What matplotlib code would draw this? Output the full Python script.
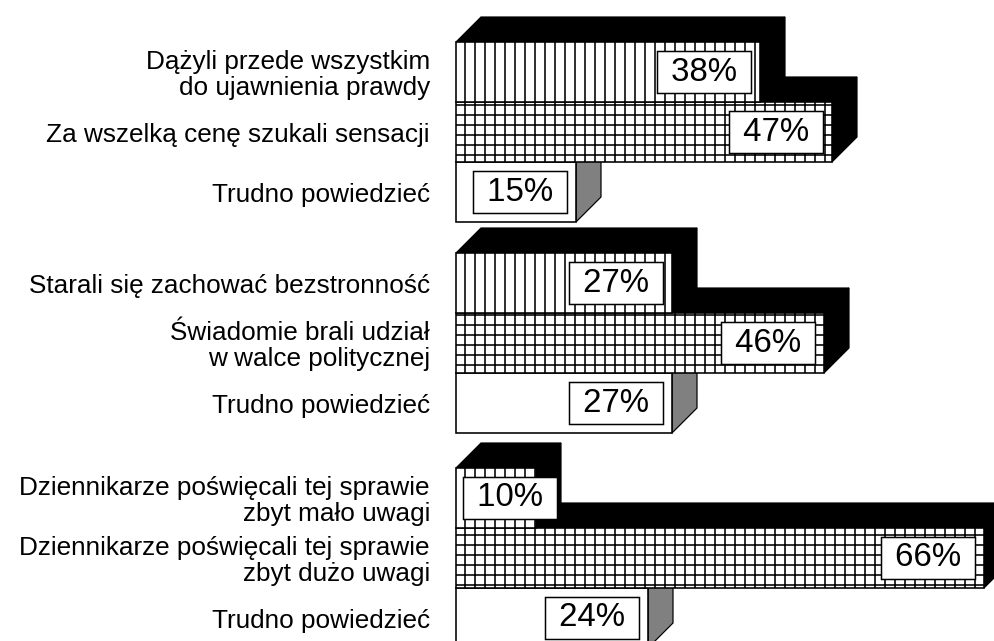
import matplotlib
matplotlib.use("Agg")
import matplotlib.pyplot as plt
from matplotlib.patches import Rectangle, Polygon
from matplotlib.transforms import blended_transform_factory, ScaledTranslation

# ---------------- data ----------------
group1_labels = ["Dążyli przede wszystkim\ndo ujawnienia prawdy",
                 "Za wszelką cenę szukali sensacji",
                 "Trudno powiedzieć"]
group1_values = [38, 47, 15]

group2_labels = ["Starali się zachować bezstronność",
                 "Świadomie brali udział\nw walce politycznej",
                 "Trudno powiedzieć"]
group2_values = [27, 46, 27]

group3_labels = ["Dziennikarze poświęcali tej sprawie\nzbyt mało uwagi",
                 "Dziennikarze poświęcali tej sprawie\nzbyt dużo uwagi",
                 "Trudno powiedzieć"]
group3_values = [10, 66, 24]

groups = [(group1_labels, group1_values),
          (group2_labels, group2_values),
          (group3_labels, group3_values)]

# ---------------- style / layout ----------------
DPI = 60
W, H = 995, 641
PT = 72.0 / DPI          # points per pixel

plt.rcParams['font.family'] = ['Liberation Sans', 'DejaVu Sans']
plt.rcParams['hatch.linewidth'] = 1.6 * PT
plt.rcParams['hatch.color'] = 'black'

hatches = ['|', '+', '']
side_colors = ['black', 'black', '#808080']

fig = plt.figure(figsize=(W / DPI, H / DPI), dpi=DPI)
fig.patch.set_facecolor('white')

ax_left_px = 456
xmax = 67
ax_w_px = 536
bar_h_px = 60
group_tops_px = [42, 253, 468]
depth_px = 25

sx = ax_w_px / xmax          # px per percent
dx = depth_px / sx
dy = depth_px / bar_h_px

label_em_px = 26.1
value_em_px = 33.0
box_w_px = 94

for (labels, values), top in zip(groups, group_tops_px):
    ax = fig.add_axes([ax_left_px / W, 1 - (top + 3 * bar_h_px) / H,
                       ax_w_px / W, 3 * bar_h_px / H])
    ax.set_xlim(0, xmax)
    ax.set_ylim(3, 0)
    ax.axis('off')
    ax.patch.set_alpha(0)

    n = len(values)
    for i in reversed(range(n)):
        v = values[i]
        z = 1 + (n - 1 - i) * 3
        sc = side_colors[i]
        top_face = Polygon([(0, i), (dx, i - dy), (v + dx, i - dy), (v, i)],
                           closed=True, facecolor=sc, edgecolor='black',
                           lw=1.2 * PT, zorder=z, clip_on=False)
        right_face = Polygon([(v, i), (v + dx, i - dy), (v + dx, i + 1 - dy), (v, i + 1)],
                             closed=True, facecolor=sc, edgecolor='black',
                             lw=1.2 * PT, zorder=z, clip_on=False)
        front = Rectangle((0, i), v, 1, facecolor='white', edgecolor='black',
                          hatch=hatches[i], lw=1.6 * PT, zorder=z + 1, clip_on=False)
        ax.add_patch(top_face)
        ax.add_patch(right_face)
        ax.add_patch(front)

        # value label box
        right_px = max(v * sx - 9, 7 + box_w_px)
        cx = (right_px - box_w_px / 2) / sx
        ax.text(cx, i + 0.5, f" {v}% ", ha='center', va='center',
                fontsize=value_em_px * PT, color='black', zorder=50,
                bbox=dict(boxstyle='square,pad=0.16', facecolor='white',
                          edgecolor='black', lw=1.5 * PT), clip_on=False)

        # category label
        tr = blended_transform_factory(fig.transFigure, ax.transData) + \
            ScaledTranslation(0, -3 / DPI, fig.dpi_scale_trans)
        ax.text(430 / W, i + 0.5, labels[i], transform=tr, ha='right',
                va='center', ma='right', fontsize=label_em_px * PT,
                linespacing=1.12, color='black', clip_on=False)

fig.savefig('out.png', dpi=DPI, facecolor='white')
